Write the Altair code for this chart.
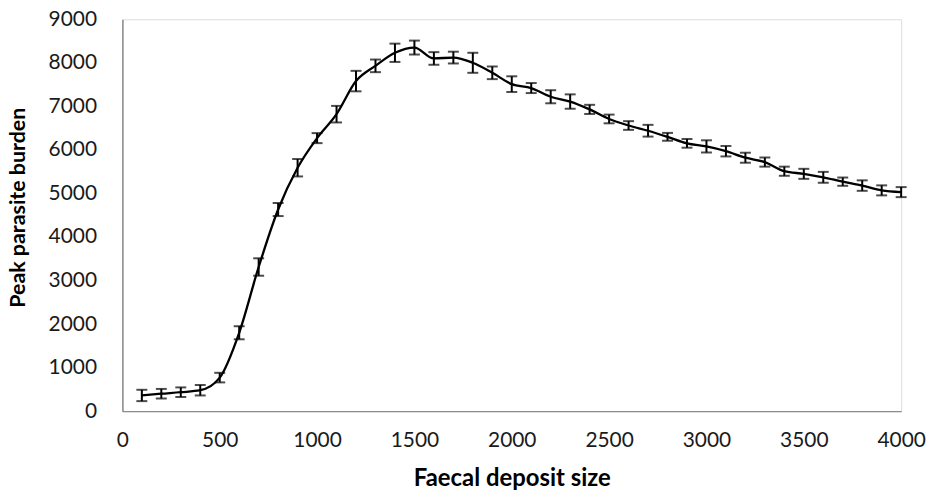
import altair as alt
import pandas as pd

deposit_size = [100, 200, 300, 400, 500, 600, 700, 800, 900, 1000,
                1100, 1200, 1300, 1400, 1500, 1600, 1700, 1800, 1900, 2000,
                2100, 2200, 2300, 2400, 2500, 2600, 2700, 2800, 2900, 3000,
                3100, 3200, 3300, 3400, 3500, 3600, 3700, 3800, 3900, 4000]
peak_burden = [360, 400, 435, 480, 770, 1800, 3310, 4630, 5590, 6270,
               6820, 7580, 7930, 8230, 8350, 8100, 8120, 8000, 7770, 7510,
               7420, 7220, 7110, 6930, 6710, 6560, 6440, 6300, 6150, 6080,
               5970, 5820, 5720, 5510, 5450, 5370, 5270, 5180, 5070, 5030]
error = [130, 110, 110, 120, 110, 150, 200, 150, 200, 115,
         190, 235, 145, 210, 160, 145, 135, 230, 145, 180,
         115, 150, 165, 105, 100, 100, 135, 90, 100, 140,
         120, 115, 105, 105, 115, 125, 95, 120, 115, 115]
x_ticks = [0, 500, 1000, 1500, 2000, 2500, 3000, 3500, 4000]
y_ticks = [0, 1000, 2000, 3000, 4000, 5000, 6000, 7000, 8000, 9000]

df = pd.DataFrame({"x": deposit_size, "y": peak_burden, "e": error})
df["lo"] = df["y"] - df["e"]
df["hi"] = df["y"] + df["e"]

FONT = "Lato, 'Open Sans', sans-serif"

xs = alt.Scale(domain=[0, 4000], nice=False)
ys = alt.Scale(domain=[0, 9000], nice=False)

xax = alt.Axis(values=x_ticks, format="d", labelFlush=False,
               title="Faecal deposit size", grid=False, ticks=False,
               labelPadding=19, labelFontSize=21, labelFont=FONT, labelColor="#1a1a1a",
               titleFont=FONT, titleFontSize=24, titleFontWeight="bold", titleColor="#000",
               titleBaseline="alphabetic", titleY=75,
               domainColor="#8c8c8c", domainWidth=1.5)
yax = alt.Axis(values=y_ticks, format="d", labelFlush=False,
               title="Peak parasite burden", grid=False, ticks=False,
               labelPadding=26, labelFontSize=21, labelFont=FONT, labelColor="#1a1a1a",
               titleFont=FONT, titleFontSize=21.5, titleFontWeight="bold", titleColor="#000",
               titleX=-93, titleY=189,
               domainColor="#8c8c8c", domainWidth=1.5)

base = alt.Chart(df)

line = base.mark_line(color="black", strokeWidth=2.3, interpolate="monotone").encode(
    x=alt.X("x:Q", scale=xs, axis=xax),
    y=alt.Y("y:Q", scale=ys, axis=yax),
)
bars = base.mark_rule(color="black", strokeWidth=2).encode(
    x="x:Q", y="lo:Q", y2="hi:Q"
)
cap_lo = base.mark_tick(color="black", thickness=2, size=11, orient="horizontal").encode(
    x="x:Q", y="lo:Q"
)
cap_hi = base.mark_tick(color="black", thickness=2, size=11, orient="horizontal").encode(
    x="x:Q", y="hi:Q"
)

chart = alt.layer(line, bars, cap_lo, cap_hi).properties(
    width=783, height=394,
    padding={"left": 115, "top": 10, "right": 27, "bottom": 82},
    autosize=alt.AutoSizeParams(type="none"),
).configure_view(stroke=None).configure(background="white")

chart.save("out.html", embed_options={"renderer": "svg", "actions": False})
